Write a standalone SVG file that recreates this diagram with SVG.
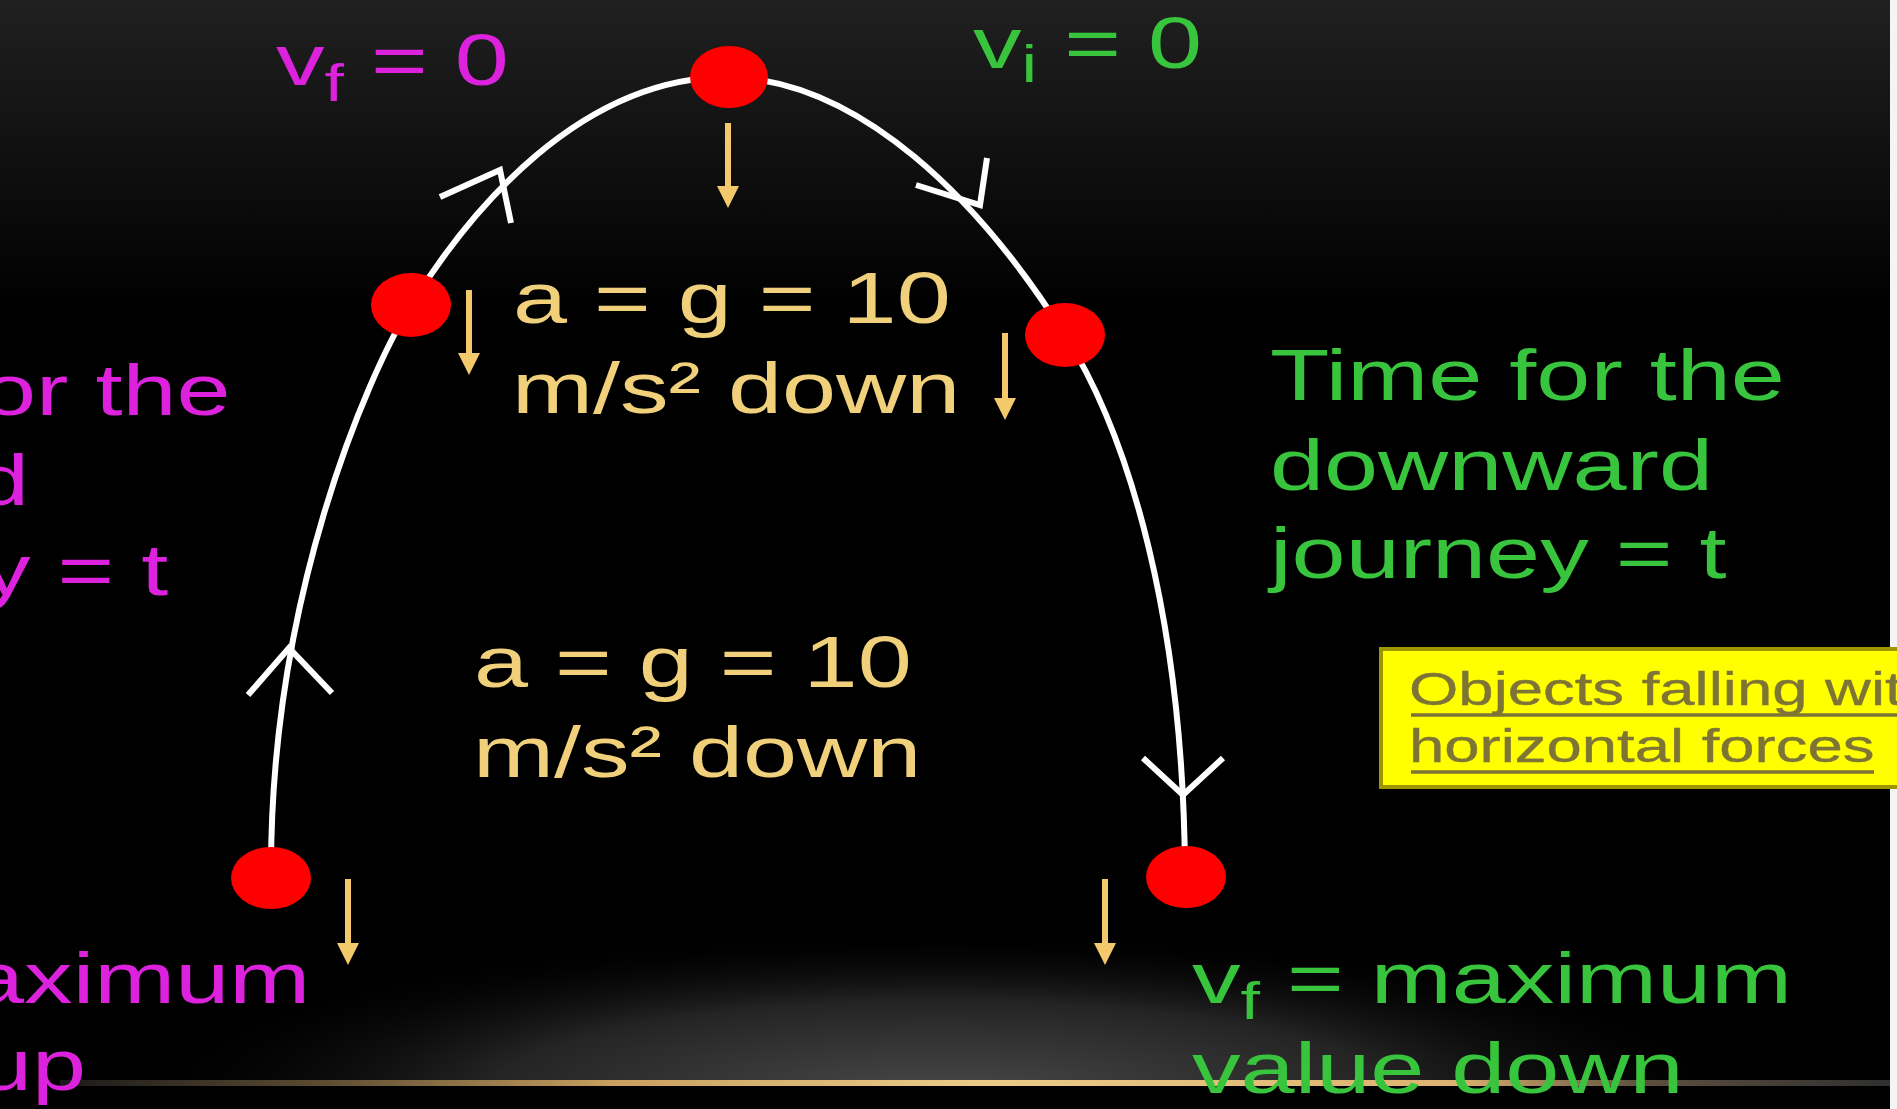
<svg xmlns="http://www.w3.org/2000/svg" width="1897" height="1109" viewBox="0 0 1897 1109">
  <defs>
    <linearGradient id="bg" x1="0" y1="0" x2="0" y2="1109" gradientUnits="userSpaceOnUse">
      <stop offset="0" stop-color="#202020"/>
      <stop offset="0.28" stop-color="#000000"/>
      <stop offset="1" stop-color="#000000"/>
    </linearGradient>
    <radialGradient id="glow" cx="940" cy="1092" r="820" gradientUnits="userSpaceOnUse" gradientTransform="translate(940 1092) scale(1 0.2) translate(-940 -1092)">
      <stop offset="0" stop-color="#484848"/>
      <stop offset="0.55" stop-color="#242424"/>
      <stop offset="1" stop-color="#000000" stop-opacity="0"/>
    </radialGradient>
    <linearGradient id="gold" x1="60" y1="0" x2="1897" y2="0" gradientUnits="userSpaceOnUse">
      <stop offset="0" stop-color="#1a1a1a"/>
      <stop offset="0.14" stop-color="#5a4a30"/>
      <stop offset="0.3" stop-color="#c8a060"/>
      <stop offset="0.5" stop-color="#eccb88"/>
      <stop offset="0.76" stop-color="#dcb270"/>
      <stop offset="0.86" stop-color="#5e5040"/>
      <stop offset="1" stop-color="#2e2e2e"/>
    </linearGradient>
    <filter id="soft" x="-5%" y="-300%" width="110%" height="700%">
      <feGaussianBlur stdDeviation="5"/>
    </filter>
    <marker id="ah" markerUnits="userSpaceOnUse" markerWidth="26" markerHeight="26" refX="2" refY="11" orient="auto">
      <path d="M0,0 L22,11 L0,22 z" fill="#f3c96b"/>
    </marker>
    <style>
      .t { font-family: "Liberation Sans", Arial, sans-serif; font-size: 72px; }
      .mag { fill: #dd22dd; }
      .grn { fill: #38c43c; }
      .gld { fill: #f0d07a; }
      .lnk { font-family: "Liberation Sans", Arial, sans-serif; font-size: 47px; fill: #7d7436; stroke: #7d7436; stroke-width: 0.4; }
      .dot { fill: #ff0000; }
      .path { fill: none; stroke: #ffffff; stroke-width: 6; }
      .chev { fill: none; stroke: #ffffff; stroke-width: 6; stroke-linejoin: miter; }
      .arr { stroke: #f3c96b; stroke-width: 6; marker-end: url(#ah); }
    </style>
  </defs>

  <!-- background -->
  <rect x="0" y="0" width="1897" height="1109" fill="url(#bg)"/>
  <rect x="0" y="900" width="1897" height="186" fill="url(#glow)"/>
  <line x1="60" y1="1083" x2="1897" y2="1083" stroke="url(#gold)" stroke-width="14" opacity="0.5" filter="url(#soft)"/>
  <line x1="60" y1="1083" x2="1897" y2="1083" stroke="url(#gold)" stroke-width="6"/>
  <rect x="1890" y="0" width="7" height="1109" fill="#f4f4f4"/>

  <!-- connectors: trajectory and direction chevrons -->
  <g id="connectors">
    <path class="path" d="M271,870 C271,600 365,380 411,305 C470,210 580,77 729,77 C860,80 980,200 1065,335 C1130,438 1183,620 1185,870"/>
    <polyline class="chev" points="248,695 289,648 332,693"/>
    <polyline class="chev" points="440,197 500,170 511,223"/>
    <polyline class="chev" points="987,158 980,205 916,185"/>
    <polyline class="chev" points="1143,758 1183,795 1223,758"/>
  </g>

  <!-- ball positions -->
  <g id="ball-bottom-left"><ellipse class="dot" cx="271" cy="878" rx="40" ry="31"/></g>
  <g id="ball-mid-left"><ellipse class="dot" cx="411" cy="305" rx="40" ry="32"/></g>
  <g id="ball-top"><ellipse class="dot" cx="729" cy="77" rx="39" ry="31"/></g>
  <g id="ball-mid-right"><ellipse class="dot" cx="1065" cy="335" rx="40" ry="32"/></g>
  <g id="ball-bottom-right"><ellipse class="dot" cx="1186" cy="877" rx="40" ry="31"/></g>

  <!-- acceleration arrows -->
  <g id="accel-arrows">
    <line class="arr" x1="728" y1="123" x2="728" y2="188"/>
    <line class="arr" x1="469" y1="290" x2="469" y2="355"/>
    <line class="arr" x1="1005" y1="333" x2="1005" y2="400"/>
    <line class="arr" x1="348" y1="879" x2="348" y2="945"/>
    <line class="arr" x1="1105" y1="879" x2="1105" y2="945"/>
  </g>

  <!-- labels -->
  <g id="label-vf0">
    <text class="t mag" transform="translate(276,85) scale(1.35,1)">v<tspan font-size="52" dy="16">f</tspan><tspan dy="-16"> = 0</tspan></text>
  </g>
  <g id="label-vi0">
    <text class="t grn" transform="translate(973,68) scale(1.35,1)">v<tspan font-size="52" dy="14">i</tspan><tspan dy="-14"> = 0</tspan></text>
  </g>
  <g id="label-accel-upper">
    <text class="t gld" transform="translate(513,323) scale(1.35,1)">a = g = 10</text>
    <text class="t gld" transform="translate(512,413) scale(1.35,1)">m/s² down</text>
  </g>
  <g id="label-accel-lower">
    <text class="t gld" transform="translate(474,687) scale(1.35,1)">a = g = 10</text>
    <text class="t gld" transform="translate(473,777) scale(1.35,1)">m/s² down</text>
  </g>
  <g id="label-time-up">
    <text class="t mag" transform="translate(-18,415) scale(1.35,1)">or the</text>
    <text class="t mag" transform="translate(-25,505) scale(1.35,1)">d</text>
    <text class="t mag" transform="translate(-18,595) scale(1.35,1)">y = t</text>
  </g>
  <g id="label-vf-up">
    <text class="t mag" font-size="69" transform="translate(-30,1003) scale(1.35,1)">aximum</text>
    <text class="t mag" font-size="69" transform="translate(-22,1090) scale(1.35,1)">up</text>
  </g>
  <g id="label-time-down">
    <text class="t grn" transform="translate(1270,400) scale(1.35,1)">Time for the</text>
    <text class="t grn" transform="translate(1270,490) scale(1.35,1)">downward</text>
    <text class="t grn" transform="translate(1270,578) scale(1.35,1)">journey = t</text>
  </g>
  <g id="label-vf-down">
    <text class="t grn" transform="translate(1192,1003) scale(1.35,1)">v<tspan font-size="52" dy="16">f</tspan><tspan dy="-16"> = maximum</tspan></text>
    <text class="t grn" transform="translate(1192,1093) scale(1.35,1)">value down</text>
  </g>

  <!-- link box -->
  <g id="link-box">
    <rect x="1381" y="649" width="530" height="138" fill="#ffff00" stroke="#9e9600" stroke-width="4"/>
    <text class="lnk" transform="translate(1409,705) scale(1.35,1)">Objects falling wit</text>
    <text class="lnk" transform="translate(1409,762) scale(1.35,1)">horizontal forces</text>
    <line x1="1411" y1="715" x2="1897" y2="715" stroke="#7d7436" stroke-width="3.5"/>
    <line x1="1411" y1="772" x2="1874" y2="772" stroke="#7d7436" stroke-width="3.5"/>
  </g>
</svg>
